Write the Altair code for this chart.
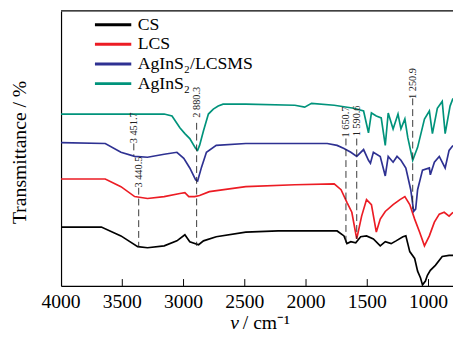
import altair as alt
import pandas as pd

# ---- data (wavenumber cm^-1, transmittance a.u.) ----
series_names = ["CS", "LCS", "AgInS\u2082/LCSMS", "AgInS\u2082"]
series_colors = ["#000000", "#ec1c24", "#2e3192", "#00937b"]

cs_wn = [4000, 3671, 3511, 3374, 3294, 3158, 3054, 2989, 2949, 2877, 2837, 2733, 2492, 2228,
         1746, 1690, 1666, 1634, 1594, 1554, 1506, 1450, 1394, 1353, 1305, 1265, 1209, 1185,
         1153, 1113, 1089, 1065, 1049, 1025, 1009, 985, 944, 888, 832, 800]
cs_t = [21.4, 21.4, 18.2, 14.3, 13.9, 14.6, 16.4, 18.6, 16.1, 15.0, 16.4, 17.9, 19.6, 20.0,
        20.0, 18.2, 15.4, 16.1, 15.7, 17.9, 18.2, 17.1, 14.6, 16.1, 15.4, 16.4, 17.9, 18.2,
        12.5, 10.0, 5.4, 2.9, 0.4, 1.8, 3.9, 5.7, 7.5, 10.7, 11.1, 11.1]

lcs_wn = [4000, 3639, 3511, 3399, 3294, 3158, 3030, 2989, 2957, 2909, 2869, 2789, 2492, 2091,
          1770, 1714, 1666, 1626, 1586, 1546, 1506, 1466, 1426, 1394, 1353, 1289, 1233, 1193,
          1153, 1113, 1073, 1033, 993, 952, 912, 872, 832, 800]
lcs_t = [38.9, 38.9, 36.1, 32.5, 31.8, 32.5, 33.6, 33.9, 32.5, 32.5, 32.9, 34.3, 36.1, 36.8,
         37.1, 35.0, 30.4, 26.8, 17.1, 25.4, 31.4, 29.6, 19.6, 24.3, 27.1, 29.6, 31.4, 32.5,
         29.6, 24.3, 19.6, 14.6, 18.2, 23.2, 26.1, 26.8, 25.4, 26.8]

ag_lcsms_wn = [4000, 3639, 3511, 3399, 3294, 3158, 3054, 2998, 2949, 2901, 2885, 2853, 2813,
               2733, 2492, 1827, 1746, 1690, 1634, 1586, 1530, 1490, 1474, 1450, 1394, 1353,
               1329, 1289, 1257, 1225, 1185, 1145, 1121, 1105, 1089, 1049, 993, 985, 952, 912,
               864, 832, 800]
ag_lcsms_t = [52.1, 51.8, 48.6, 47.1, 46.8, 47.9, 48.6, 46.4, 42.9, 38.6, 38.2, 43.2, 48.6,
              51.1, 51.8, 51.8, 51.1, 50.0, 48.6, 47.1, 49.6, 45.7, 44.6, 48.6, 47.1, 40.0,
              47.1, 45.0, 47.1, 45.7, 42.9, 35.0, 27.1, 27.9, 35.0, 42.1, 42.9, 40.4, 45.0,
              47.1, 42.9, 49.3, 51.1]

ag_wn = [4000, 3639, 3158, 3094, 3030, 2989, 2949, 2901, 2885, 2869, 2837, 2797, 2757, 2717,
         2677, 2492, 2091, 2011, 1955, 1770, 1610, 1530, 1490, 1466, 1426, 1386, 1353, 1329,
         1289, 1249, 1225, 1193, 1169, 1129, 1089, 1033, 993, 968, 928, 888, 864, 824, 800]
ag_t = [62.5, 62.5, 62.5, 61.8, 57.5, 55.4, 53.6, 50.0, 49.3, 51.1, 56.4, 62.5, 64.3, 65.4,
        66.1, 66.1, 65.7, 65.0, 66.4, 65.7, 64.6, 63.6, 55.7, 62.9, 61.8, 61.1, 51.1, 62.9,
        57.1, 62.5, 57.1, 60.7, 53.9, 45.7, 50.4, 60.7, 63.6, 55.4, 64.6, 67.1, 55.4, 65.4, 68.2]

# peak annotations
ann_text = ["3 451.7", "3 440.5", "2 880.3", "1 650.7", "1 590.6", "1 250.9"]
ann_wn = [3406, 3366, 2893, 1674, 1586, 1129]
ann_text_t = [57.5, 41.4, 66.8, 59.6, 60.0, 73.6]
ann_top = [51.8, 35.7, 59.3, 53.6, 53.6, 68.2]
ann_bottom = [47.5, 14.3, 14.6, 15.4, 17.1, 27.9]

tick_values = [4000, 3500, 3000, 2500, 2000, 1500, 1000]
x_title_symbol = "v"
x_title_unit = "/ cm\u207B\u00B9"
y_title = "Transmittance / %"

# ---- tables ----
rows = []
for name, wn, t in zip(series_names,
                       [cs_wn, lcs_wn, ag_lcsms_wn, ag_wn],
                       [cs_t, lcs_t, ag_lcsms_t, ag_t]):
    for i, (w, v) in enumerate(zip(wn, t)):
        rows.append({"series": name, "wn": w, "t": v, "idx": i})
spectra = pd.DataFrame(rows)

ann = pd.DataFrame({"label": ann_text, "wn": ann_wn, "t": ann_text_t,
                    "top": ann_top, "bottom": ann_bottom})
tick_df = pd.DataFrame({"wn": tick_values, "label": [str(v) for v in tick_values]})
inner_ticks = tick_df[tick_df["wn"] < 4000]
title_df = pd.DataFrame({"sym": [x_title_symbol], "unit": [x_title_unit], "ytitle": [y_title]})

FONT = "Liberation Serif"
W, H = 399, 280
xscale = alt.Scale(domain=[4000, 800], nice=False, zero=False)
yscale = alt.Scale(domain=[0, 100], nice=False, zero=False)

x_axis = alt.Axis(labels=False, ticks=False, grid=False, domain=True, title=None,
                  domainColor="black", domainWidth=1.2)
y_axis = alt.Axis(labels=False, ticks=False, grid=False, domain=True, title=None,
                  domainColor="black", domainWidth=1.2)

lines = alt.Chart(spectra).mark_line(strokeWidth=1.7).encode(
    x=alt.X("wn:Q", scale=xscale, axis=x_axis),
    y=alt.Y("t:Q", scale=yscale, axis=y_axis),
    color=alt.Color("series:N",
                    scale=alt.Scale(domain=series_names, range=series_colors),
                    legend=alt.Legend(title=None, orient="none", legendX=42, legendY=3,
                                      symbolType="M-2,0H2", symbolSize=342,
                                      symbolStrokeWidth=3, labelFont=FONT,
                                      labelFontSize=18, labelColor="black",
                                      labelOffset=14, rowPadding=0, padding=0)),
    detail="series:N",
    order="idx:Q",
)

ann_rules = alt.Chart(ann).mark_rule(color="#222222", strokeWidth=0.9,
                                     strokeDash=[7, 4]).encode(
    x=alt.X("wn:Q", scale=xscale, axis=x_axis),
    y=alt.Y("top:Q", scale=yscale, axis=y_axis),
    y2="bottom:Q",
)

ann_labels = alt.Chart(ann).mark_text(font=FONT, fontSize=10.5, angle=270,
                                      align="center", baseline="middle",
                                      color="#222222").encode(
    x=alt.X("wn:Q", scale=xscale, axis=x_axis),
    y=alt.Y("t:Q", scale=yscale, axis=y_axis),
    text="label:N",
)

tick_marks = alt.Chart(inner_ticks).mark_rule(color="black", strokeWidth=1).encode(
    x=alt.X("wn:Q", scale=xscale, axis=x_axis),
    y=alt.value(H - 7),
    y2=alt.value(H),
)

tick_labels = alt.Chart(tick_df).mark_text(font=FONT, fontSize=20, color="black",
                                           align="center", baseline="top").encode(
    x=alt.X("wn:Q", scale=xscale, axis=x_axis),
    y=alt.value(H + 6),
    text="label:N",
)

x_title_a = alt.Chart(title_df).mark_text(font=FONT, fontSize=20, fontStyle="italic",
                                          color="black", align="right",
                                          baseline="middle").encode(
    x=alt.value(181), y=alt.value(H + 38), text="sym:N")
x_title_b = alt.Chart(title_df).mark_text(font=FONT, fontSize=20, color="black",
                                          align="left", baseline="middle").encode(
    x=alt.value(185), y=alt.value(H + 38), text="unit:N")
y_title_mark = alt.Chart(title_df).mark_text(font=FONT, fontSize=20, color="black",
                                             angle=270, align="center",
                                             baseline="middle").encode(
    x=alt.value(-42), y=alt.value(144), text="ytitle:N")

top_border = alt.Chart(title_df).mark_rule(color="black", strokeWidth=1.2).encode(
    x=alt.value(0), x2=alt.value(W), y=alt.value(0),
)

chart = alt.layer(lines, ann_rules, ann_labels, tick_marks, tick_labels,
                  x_title_a, x_title_b, y_title_mark, top_border).properties(
    width=W, height=H,
    autosize=alt.AutoSizeParams(type="none"),
    padding={"left": 54, "top": 0, "right": 0, "bottom": 50},
).configure_view(stroke=None)

chart.save("out.html", embed_options={"renderer": "svg", "actions": False})
